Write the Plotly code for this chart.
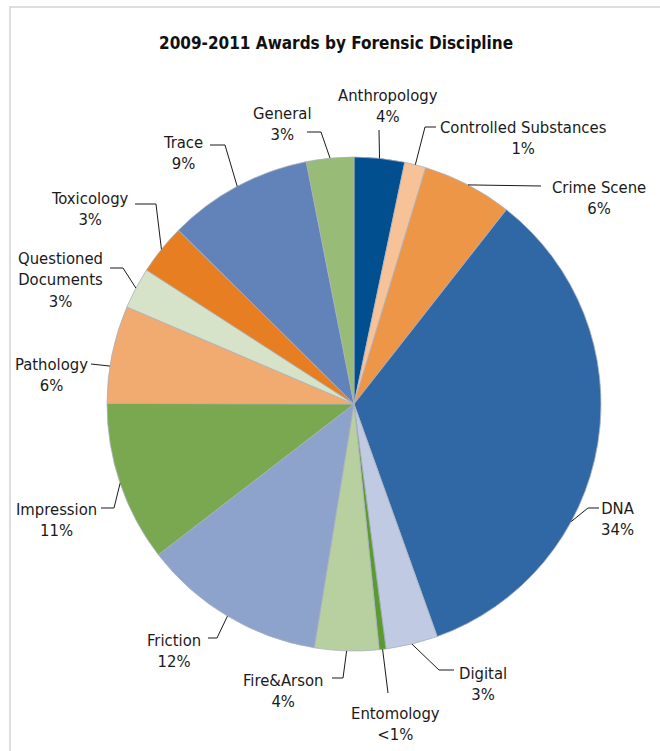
import math
import plotly.graph_objects as go

# Data (percent of awards), clockwise from 12 o'clock
disciplines = ["Anthropology", "Controlled Substances", "Crime Scene", "DNA", "Digital",
               "Entomology", "Fire&Arson", "Friction", "Impression", "Pathology",
               "Questioned Documents", "Toxicology", "Trace", "General"]
shares = [3.3, 1.4, 5.9, 34.0, 3.4, 0.45, 4.2, 12.0, 10.5, 6.4, 2.7, 3.3, 9.5, 3.1]
pct_labels = ["4%", "1%", "6%", "34%", "3%", "<1%", "4%", "12%", "11%", "6%", "3%", "3%", "9%", "3%"]
label_names = ["Anthropology", "Controlled Substances", "Crime Scene", "DNA", "Digital",
               "Entomology", "Fire&Arson", "Friction", "Impression", "Pathology",
               "Questioned<br>Documents", "Toxicology", "Trace", "General"]

colors = ["#014f8f", "#f7c298", "#ee9647", "#3068a5", "#c0cae3", "#5b9a33", "#b8d09f",
          "#8ea3cb", "#7aa851", "#f1ab70", "#d7e3c9", "#e77e22", "#6283b9", "#99bb78"]

W, H = 660, 751
CX, CY, R = 354, 404, 247
FONT = "DejaVu Sans Condensed, Liberation Sans Narrow, Arial Narrow, sans-serif"

# label layout (pixels): text centre, leader knee, leader end
label_pos = [(388, 106), (523, 138), (599, 198), (618, 519), (483, 684), (395, 724),
             (283, 691), (174, 651), (56, 520), (51, 375), (60, 280), (90, 209), (183, 153), (282, 124)]
knees = [(379, 130), (425, 127), None, (588, 508), (439, 670), (388, 693), (343, 678),
         (217, 638), (114, 508), None, (123, 268), (156, 204), (225, 145), (321, 132)]
ends = [(379, 130), (436, 127), (541, 186), (599, 508), (454, 670), (388, 693), (332, 678),
        (208, 638), (101, 508), (91, 364), (110, 268), (135, 204), (210, 145), (307, 132)]
angle_shift = {"DNA": 19.2, "Pathology": -2.8}


def px(x):
    return x / W


def py(y):
    return 1 - y / H


fig = go.Figure()
fig.add_trace(go.Pie(
    labels=disciplines,
    values=shares,
    sort=False,
    direction="clockwise",
    rotation=0,
    marker=dict(colors=colors, line=dict(color="#a9b1bd", width=0.8)),
    textinfo="none",
    hoverinfo="label+percent",
    showlegend=False,
    domain=dict(x=[px(CX - R), px(CX + R)], y=[py(CY + R), py(CY - R)]),
))

shapes = [dict(type="rect", xref="paper", yref="paper", x0=px(10), x1=1.1, y0=-0.1, y1=py(7),
               line=dict(color="#d4d4d4", width=1.5), fillcolor="rgba(0,0,0,0)")]
annotations = []

total = sum(shares)
cum = 0.0
for i, name in enumerate(disciplines):
    mid = (cum + shares[i] / 2) / total * 360 + angle_shift.get(name, 0)
    cum += shares[i]
    a = math.radians(mid)
    ax, ay = CX + R * math.sin(a), CY - R * math.cos(a)
    pts = [(ax, ay)]
    if knees[i] is not None:
        pts.append(knees[i])
    pts.append(ends[i])
    path = "M " + " L ".join(f"{px(x):.5f},{py(y):.5f}" for x, y in pts)
    shapes.append(dict(type="path", xref="paper", yref="paper", path=path,
                       line=dict(color="#1a1a1a", width=1)))
    tx, ty = label_pos[i]
    annotations.append(dict(x=px(tx), y=py(ty), xref="paper", yref="paper",
                            text=f"{label_names[i]}<br>{pct_labels[i]}", showarrow=False,
                            xanchor="center", yanchor="middle",
                            font=dict(family=FONT, size=16.5, color="#1a1a1a")))

annotations.append(dict(x=px(336), y=py(43), xref="paper", yref="paper",
                        text="<b>2009-2011 Awards by Forensic Discipline</b>", showarrow=False,
                        xanchor="center", yanchor="middle",
                        font=dict(family=FONT, size=17, color="#111111")))

fig.update_layout(
    width=W, height=H,
    margin=dict(l=0, r=0, t=0, b=0),
    paper_bgcolor="white",
    plot_bgcolor="white",
    shapes=shapes,
    annotations=annotations,
)

# drop the default 8px page margin so the figure sits flush in the window
fig.write_html("out.html", config={"displayModeBar": False},
               post_script="document.body.style.margin='0';"
                           "document.body.style.overflow='hidden';")
